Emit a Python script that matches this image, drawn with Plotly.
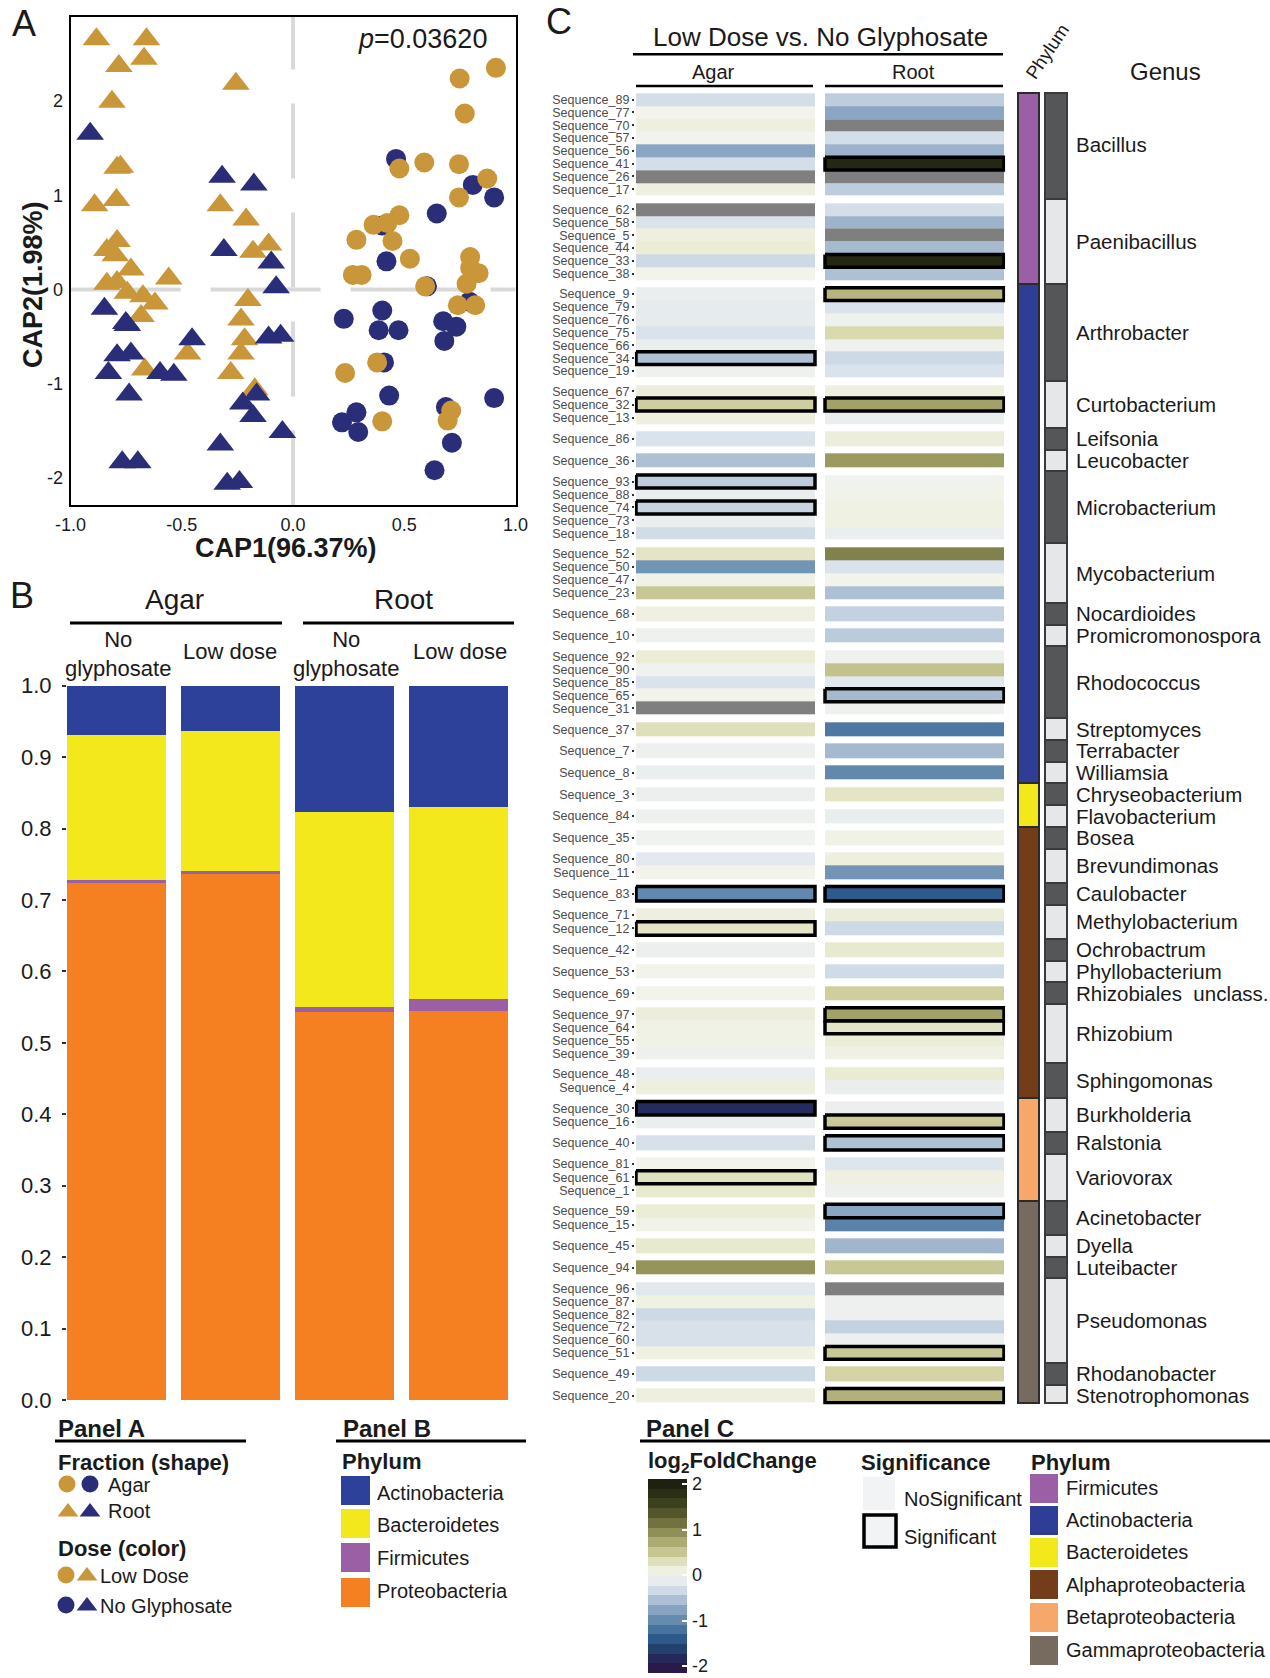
import numpy as np
import plotly.graph_objects as go

W, H = 1270, 1678
FONT = "Liberation Sans"

# ======================= DATA =======================
# ---- Panel A: CAP ordination (CAP1, CAP2) ----
agar_no_x = [0.463, 0.808, 0.904, 0.646, 0.401, 0.420, 0.602, 0.228, 0.401, 0.385, 0.474, 0.675,
             0.734, 0.680, 0.793, 0.409, 0.432, 0.285, 0.220, 0.293, 0.687, 0.904, 0.714, 0.636]
agar_no_y = [1.386, 1.110, 0.977, 0.807, 0.678, 0.299, 0.034, -0.311, -0.223, -0.432, -0.432, -0.337,
             -0.394, -0.545, -0.129, -0.773, -1.125, -1.303, -1.409, -1.511, -1.246, -1.152, -1.625, -1.917]
agar_low_x = [0.912, 0.749, 0.772, 0.478, 0.590, 0.746, 0.873, 0.746, 0.478, 0.362, 0.424, 0.285, 0.447,
              0.525, 0.269, 0.308, 0.594, 0.796, 0.796, 0.834, 0.780, 0.741, 0.819, 0.378, 0.234, 0.711,
              0.695, 0.401]
agar_low_y = [2.352, 2.239, 1.867, 1.284, 1.348, 1.330, 1.178, 0.977, 0.788, 0.686, 0.705, 0.527, 0.515,
              0.326, 0.155, 0.155, 0.034, 0.345, 0.231, 0.174, 0.061, -0.167, -0.167, -0.773, -0.886,
              -1.284, -1.390, -1.398]
root_low_x = [-0.884, -0.659, -0.783, -0.670, -0.257, -0.814, -0.791, -0.776, -0.892, -0.794, -0.327,
              -0.211, -0.791, -0.837, -0.799, -0.729, -0.559, -0.837, -0.791, -0.745, -0.675, -0.621,
              -0.683, -0.180, -0.110, -0.203, -0.234, -0.218, -0.234, -0.474, -0.667, -0.280, -0.172]
root_low_y = [2.655, 2.655, 2.371, 2.447, 2.182, 1.992, 1.292, 1.303, 0.894, 0.951, 0.894, 0.742, 0.515,
              0.420, 0.364, 0.212, 0.117, 0.061, 0.080, -0.034, -0.072, -0.148, -0.280, 0.402, 0.477,
              -0.110, -0.318, -0.527, -0.678, -0.678, -0.848, -0.886, -1.057]
root_no_x = [-0.912, -0.319, -0.176, -0.311, -0.098, -0.076, -0.848, -0.752, -0.745, -0.454, -0.791,
             -0.729, -0.830, -0.598, -0.536, -0.737, -0.110, -0.056, -0.164, -0.226, -0.180, -0.048,
             -0.327, -0.768, -0.698, -0.296, -0.241]
root_no_y = [1.652, 1.197, 1.114, 0.420, 0.288, 0.023, -0.205, -0.356, -0.375, -0.527, -0.697, -0.678,
             -0.886, -0.886, -0.905, -1.114, -0.508, -0.489, -1.114, -1.208, -1.341, -1.511, -1.644,
             -1.833, -1.833, -2.061, -2.042]
p_value_text = "<i>p</i>=0.03620"
cap1_label = "CAP1(96.37%)"
cap2_label = "CAP2(1.98%)"

# ---- Panel B: relative abundance by phylum ----
bar_fraction = ["Agar", "Agar", "Root", "Root"]
bar_dose = ["No<br>glyphosate", "Low dose", "No<br>glyphosate", "Low dose"]
proteobacteria = [0.724, 0.736, 0.543, 0.545]
firmicutes = [0.004, 0.005, 0.0075, 0.017]
bacteroidetes = [0.203, 0.196, 0.272, 0.268]
actinobacteria = [0.069, 0.063, 0.1775, 0.170]
b_ticks = [0.0, 0.1, 0.2, 0.3, 0.4, 0.5, 0.6, 0.7, 0.8, 0.9, 1.0]

# ---- Panel C: log2 fold change heatmap ----
genera = ["Bacillus", "Paenibacillus", "Arthrobacter", "Curtobacterium", "Leifsonia", "Leucobacter",
          "Microbacterium", "Mycobacterium", "Nocardioides", "Promicromonospora", "Rhodococcus",
          "Streptomyces", "Terrabacter", "Williamsia", "Chryseobacterium", "Flavobacterium", "Bosea",
          "Brevundimonas", "Caulobacter", "Methylobacterium", "Ochrobactrum", "Phyllobacterium",
          "Rhizobiales  unclass.", "Rhizobium", "Sphingomonas", "Burkholderia", "Ralstonia", "Variovorax",
          "Acinetobacter", "Dyella", "Luteibacter", "Pseudomonas", "Rhodanobacter", "Stenotrophomonas"]
genus_phylum = ["Firmicutes"] * 2 + ["Actinobacteria"] * 12 + ["Bacteroidetes"] * 2 + \
               ["Alphaproteobacteria"] * 9 + ["Betaproteobacteria"] * 3 + ["Gammaproteobacteria"] * 6
genus_counts = [8, 6, 7, 3, 1, 1, 5, 4, 1, 1, 5, 1, 1, 1, 1, 1, 1, 2, 1, 2, 1, 1, 1, 4, 2, 2, 1, 3, 2, 1, 1, 6, 1, 1]
sequence_ids = [89, 77, 70, 57, 56, 41, 26, 17, 62, 58, 5, 44, 33, 38, 9, 79, 76, 75, 66, 34, 19,
                67, 32, 13, 86, 36, 93, 88, 74, 73, 18, 52, 50, 47, 23, 68, 10, 92, 90, 85, 65, 31,
                37, 7, 8, 3, 84, 35, 80, 11, 83, 71, 12, 42, 53, 69, 97, 64, 55, 39, 48, 4, 30, 16,
                40, 81, 61, 1, 59, 15, 45, 94, 96, 87, 82, 72, 60, 51, 49, 20]
lfc_agar = [-0.3, 0.02, 0.1, 0.02, -0.75, -0.3, None, 0.1,
            None, -0.25, 0.1, 0.15, -0.35, 0.02,
            -0.1, -0.15, -0.15, -0.25, -0.1, -0.55, -0.05,
            0.12, 0.45, 0.1,
            -0.25, -0.55,
            -0.45, -0.12, -0.4, -0.1, -0.32,
            0.25, -0.9, 0.05, 0.5,
            0.08, -0.05,
            0.15, -0.04, -0.25, 0.02, None,
            0.3, -0.06, -0.1, -0.08, -0.06, -0.04,
            -0.18, 0.02, -1.0, 0.1, 0.25, -0.08, 0.02, 0.02,
            0.12, 0.05, 0.05, -0.06, -0.1, 0.1,
            -1.8, -0.1, -0.27, 0.02, 0.28, 0.2,
            0.15, 0.03, 0.2, 0.9,
            -0.2, 0.07, -0.35, -0.27, -0.27, 0.07, -0.35, 0.1]
lfc_root = [-0.45, -0.75, None, -0.3, -0.65, 1.9, None, -0.45,
            -0.3, -0.65, None, -0.6, 1.9, -0.55,
            0.65, -0.25, -0.05, 0.35, -0.05, -0.35, -0.25,
            0.1, 0.8, -0.1,
            0.12, 0.85,
            -0.03, 0.03, 0.07, 0.07, -0.1,
            1.05, -0.25, 0.02, -0.55,
            -0.42, -0.47,
            -0.05, 0.55, -0.2, -0.6, -0.05,
            -1.15, -0.6, -1.0, 0.25, -0.12, 0.05,
            0.1, -0.9, -1.4, 0.12, -0.35, 0.2, -0.33, 0.45,
            0.8, 0.25, 0.15, 0.06, 0.18, -0.1,
            -0.08, 0.48, -0.55, -0.22, 0.08, -0.06,
            -0.75, -1.05, -0.62, 0.5,
            None, -0.07, -0.07, -0.42, -0.07, 0.5, 0.4, 0.68]
sig_agar = [34, 32, 93, 74, 83, 12, 30, 61]
sig_root = [41, 33, 9, 32, 65, 83, 97, 64, 16, 40, 59, 51, 20]
lfc_ticks = [-2, -1, 0, 1, 2]

# ======================= STYLE =======================
GOLD, NAVY = "#C9963A", "#2A2E78"
B_COLORS = {"Actinobacteria": "#2E419A", "Bacteroidetes": "#F2E81B",
            "Firmicutes": "#9B5FA6", "Proteobacteria": "#F48022"}
C_PHY = {"Firmicutes": "#9B5FA6", "Actinobacteria": "#2E3E97", "Bacteroidetes": "#F2E81A",
         "Alphaproteobacteria": "#733D1A", "Betaproteobacteria": "#F5A86A",
         "Gammaproteobacteria": "#776A5E"}
LFC_SCALE_COLORS = ["#2A1A4A", "#252B5C", "#24436F", "#2E5A8C", "#46729E", "#6289AD", "#819FBD",
                    "#A5B9CF", "#C6D4E2", "#E1E8EE", "#F3F4EE", "#E8EACF", "#D4D4A6", "#BCBC85",
                    "#A2A167", "#878850", "#6A6B3A", "#4E5228", "#3A3E1E", "#2A2E16", "#1E2110"]
LFC_SCALE = [[i / (len(LFC_SCALE_COLORS) - 1), c] for i, c in enumerate(LFC_SCALE_COLORS)]
NA_COLOR = "#7F7F7F"
TXT = "#1A1A1A"


def px(x):
    return x / W


def py(y):
    return 1 - y / H


annotations = []
shapes = []


def add_text(x, y, s, size, color=TXT, xanchor="center", yanchor="middle", angle=0, yref="paper"):
    annotations.append(dict(x=px(x), y=(py(y) if yref == "paper" else y), xref="paper", yref=yref,
                            text=s, showarrow=False, textangle=angle,
                            font=dict(family=FONT, size=size, color=color),
                            xanchor=xanchor, yanchor=yanchor, borderpad=0))


def add_line(x0, x1, y0, y1, width=2.5, color="black"):
    shapes.append(dict(type="line", xref="paper", yref="paper", x0=px(x0), x1=px(x1),
                       y0=py(y0), y1=py(y1), line=dict(color=color, width=width)))


def add_rect(x0, x1, y0, y1, fill, line_color=None, line_width=0):
    shapes.append(dict(type="rect", xref="paper", yref="paper", x0=px(x0), x1=px(x1),
                       y0=py(y1), y1=py(y0), fillcolor=fill,
                       line=dict(color=line_color or fill, width=line_width)))


fig = go.Figure()

# ======================= PANEL A =======================
for xs, ys, sym, col, size in [(agar_no_x, agar_no_y, "circle", NAVY, 20),
                               (agar_low_x, agar_low_y, "circle", GOLD, 20),
                               (root_low_x, root_low_y, "triangle-up", GOLD, 24),
                               (root_no_x, root_no_y, "triangle-up", NAVY, 24)]:
    fig.add_trace(go.Scatter(x=xs, y=ys, mode="markers", xaxis="x", yaxis="y",
                             marker=dict(symbol=sym, color=col, size=size, opacity=1, line=dict(width=0)),
                             showlegend=False, hoverinfo="skip"))

shapes.append(dict(type="line", xref="x", yref="y domain", x0=0, x1=0, y0=0, y1=1, layer="below",
                   line=dict(color="#D9D9D9", width=4, dash="75px,34px")))
shapes.append(dict(type="line", xref="x domain", yref="y", x0=0, x1=1, y0=0, y1=0, layer="below",
                   line=dict(color="#D9D9D9", width=4, dash="110px,30px")))

add_text(24, 24, "A", 36)
add_text(423, 39, p_value_text, 27)
add_text(286, 548, "<b>" + cap1_label + "</b>", 27)
add_text(33, 285, "<b>" + cap2_label + "</b>", 27, angle=-90)

# ======================= PANEL B =======================
xb = list(range(len(bar_dose)))
for name, vals in [("Proteobacteria", proteobacteria), ("Firmicutes", firmicutes),
                   ("Bacteroidetes", bacteroidetes), ("Actinobacteria", actinobacteria)]:
    fig.add_trace(go.Bar(x=xb, y=vals, width=0.868, xaxis="x2", yaxis="y2", name=name,
                         marker=dict(color=B_COLORS[name], line=dict(width=0)),
                         showlegend=False, hoverinfo="skip"))

add_text(22, 596, "B", 36)
add_text(174.5, 600, bar_fraction[0], 28)
add_text(403, 600, bar_fraction[2], 28)
add_line(70, 282, 623, 623, 3)
add_line(303, 514, 623, 623, 3)
for cx, lab in zip([118, 230, 346, 460], bar_dose):
    add_text(cx, 654 if "<br>" in lab else 652, lab, 22)

# ======================= PANEL C =======================
pad_u, gap_u = 0.1376, 0.589
gx = 0.0559
edges, z_main, z_na = [], [], []
row_top, row_bot, row_ctr = [], [], []
grp_top, grp_bot = [], []
yy, i = 0.0, 0
for g, n in enumerate(genus_counts):
    h = (n + pad_u) / n
    grp_top.append(yy)
    for k in range(n):
        a, r = lfc_agar[i], lfc_root[i]
        edges.append(yy)
        z_main.append([a, None, r])
        z_na.append([1 if a is None else None, None, 1 if r is None else None])
        row_top.append(yy)
        row_bot.append(yy + h)
        row_ctr.append(yy + h / 2)
        yy += h
        i += 1
    grp_bot.append(yy)
    if g < len(genus_counts) - 1:
        edges.append(yy)
        z_main.append([None, None, None])
        z_na.append([None, None, None])
        yy += gap_u
edges.append(yy)
total = yy
xedges = [0, 1, 1 + gx, 2 + gx]

fig.add_trace(go.Heatmap(z=z_main, x=xedges, y=edges, xaxis="x3", yaxis="y3",
                         colorscale=LFC_SCALE, zmin=-2, zmax=2, showscale=False,
                         hoverinfo="skip"))
fig.add_trace(go.Heatmap(z=z_na, x=xedges, y=edges, xaxis="x3", yaxis="y3",
                         colorscale=[[0, NA_COLOR], [1, NA_COLOR]], zmin=0, zmax=1,
                         showscale=False, hoverinfo="skip"))

bx, by = [], []
for col, sig in ((0, sig_agar), (1, sig_root)):
    x0 = 0 if col == 0 else 1 + gx
    x1 = x0 + 1
    for s in sig:
        j = sequence_ids.index(s)
        t, b = row_top[j], row_bot[j]
        bx += [x0, x1, x1, x0, x0, None]
        by += [t, t, b, b, t, None]
fig.add_trace(go.Scatter(x=bx, y=by, mode="lines", xaxis="x3", yaxis="y3",
                         line=dict(color="black", width=3.5), showlegend=False, hoverinfo="skip"))

# phylum + genus strips
ng = len(genera)
seg_top, seg_h, seg_col = [], [], []
g = 0
while g < ng:
    p = genus_phylum[g]
    start = g
    while g < ng and genus_phylum[g] == p:
        g += 1
    t = grp_top[start] - (gap_u / 2 if start > 0 else 0)
    b = grp_bot[g - 1] + (gap_u / 2 if g < ng else 0)
    seg_top.append(t)
    seg_h.append(b - t)
    seg_col.append(C_PHY[p])
fig.add_trace(go.Bar(x=[0] * len(seg_top), y=seg_h, base=seg_top, width=0.77, xaxis="x4", yaxis="y3",
                     marker=dict(color=seg_col, line=dict(color="#2B2B2B", width=2)),
                     showlegend=False, hoverinfo="skip"))
gen_top = [grp_top[k] - (gap_u / 2 if k > 0 else 0) for k in range(ng)]
gen_bot = [grp_bot[k] + (gap_u / 2 if k < ng - 1 else 0) for k in range(ng)]
fig.add_trace(go.Bar(x=[1] * ng, y=[b - t for t, b in zip(gen_top, gen_bot)], base=gen_top, width=0.8,
                     xaxis="x4", yaxis="y3",
                     marker=dict(color=["#545658" if k % 2 == 0 else "#E6E7E8" for k in range(ng)],
                                 line=dict(color="#3A3A3A", width=2)),
                     showlegend=False, hoverinfo="skip"))
for k, name in enumerate(genera):
    add_text(1075, (grp_top[k] + grp_bot[k]) / 2, name, 20.5, xanchor="left", yref="y3")

add_text(559, 22, "C", 36)
add_text(820, 37.5, "Low Dose vs. No Glyphosate", 26)
add_line(633, 1003, 54.3, 54.3, 2.5)
add_text(713, 72, "Agar", 20)
add_text(913, 72, "Root", 20)
add_line(636, 813, 86, 86, 2.5)
add_line(825, 1003, 86, 86, 2.5)
add_text(1047, 51, "Phylum", 18.5, angle=-56)
add_text(1165, 72, "Genus", 24)

# ======================= LEGENDS =======================
# Panel A legend
add_text(57, 1428, "<b>Panel A</b>", 24, xanchor="left")
add_line(55, 246, 1441, 1441, 3)
add_text(57, 1462, "<b>Fraction (shape)</b>", 22, xanchor="left")
add_text(107, 1485, "Agar", 20, xanchor="left")
add_text(107, 1511, "Root", 20, xanchor="left")
add_text(57, 1548, "<b>Dose (color)</b>", 22, xanchor="left")
add_text(99, 1576, "Low Dose", 20, xanchor="left")
add_text(99, 1606, "No Glyphosate", 20, xanchor="left")
fig.add_trace(go.Scatter(
    x=[67, 90, 68, 90, 66, 87, 66, 87], y=[1484, 1484, 1512, 1512, 1575, 1576, 1605, 1606],
    mode="markers", xaxis="x6", yaxis="y6", showlegend=False, hoverinfo="skip",
    marker=dict(symbol=["circle", "circle", "triangle-up", "triangle-up",
                        "circle", "triangle-up", "circle", "triangle-up"],
                color=[GOLD, NAVY, GOLD, NAVY, GOLD, GOLD, NAVY, NAVY], opacity=1,
                size=[17, 17, 18, 18, 17, 18, 17, 18], line=dict(width=0))))

# Panel B legend
add_text(342, 1428, "<b>Panel B</b>", 24, xanchor="left")
add_line(336, 526, 1441, 1441, 3)
add_text(341, 1461, "<b>Phylum</b>", 22, xanchor="left")
for (name, y0), ly in zip([("Actinobacteria", 1476), ("Bacteroidetes", 1509), ("Firmicutes", 1543),
                           ("Proteobacteria", 1578)], [1493, 1525, 1558, 1591]):
    add_rect(341, 370, y0, y0 + 29, B_COLORS[name])
    add_text(376, ly, name, 20, xanchor="left")

# Panel C legend
add_text(645, 1428, "<b>Panel C</b>", 24, xanchor="left")
add_line(640, 1270, 1441, 1441, 3)
add_text(647, 1462, "<b>log<sub>2</sub>FoldChange</b>", 22, xanchor="left")
lg_edges = list(np.linspace(-2.15, 2.11, 21))
lg_z = [[(lg_edges[k] + lg_edges[k + 1]) / 2] for k in range(20)]
fig.add_trace(go.Heatmap(z=lg_z, x=[0, 1], y=lg_edges, xaxis="x5", yaxis="y5",
                         colorscale=LFC_SCALE, zmin=-2, zmax=2, showscale=False, hoverinfo="skip"))
add_text(860, 1462, "<b>Significance</b>", 22, xanchor="left")
add_rect(863, 895, 1477, 1510, "#F2F3F5")
add_rect(864, 896, 1515, 1547, "#F2F3F5", "black", 3.5)
add_text(903, 1499, "NoSignificant", 20, xanchor="left")
add_text(903, 1537, "Significant", 20, xanchor="left")
add_text(1030, 1462, "<b>Phylum</b>", 22, xanchor="left")
for (name, y0), ly in zip([("Firmicutes", 1474), ("Actinobacteria", 1506), ("Bacteroidetes", 1538),
                           ("Alphaproteobacteria", 1570), ("Betaproteobacteria", 1603),
                           ("Gammaproteobacteria", 1636)], [1488, 1520, 1552, 1585, 1617, 1650]):
    add_rect(1030, 1058, y0, y0 + 29, C_PHY[name])
    add_text(1065, ly, name, 20, xanchor="left")

# ======================= LAYOUT =======================
ext_x = 0.006
ux = 179.0
ext_y = 0.15
uy = 12.577
tickfont = dict(family=FONT, size=18, color=TXT)
fig.update_layout(
    width=W, height=H, autosize=False, margin=dict(l=0, r=0, t=0, b=0, pad=0, autoexpand=False),
    paper_bgcolor="white", plot_bgcolor="rgba(0,0,0,0)", barmode="stack", showlegend=False,
    font=dict(family=FONT, color=TXT),
    xaxis=dict(domain=[px(70.6), px(515.5)], range=[-1, 1], anchor="y",
               tickvals=[-1, -0.5, 0, 0.5, 1], ticktext=["-1.0", "-0.5", "0.0", "0.5", "1.0"],
               ticks="", showgrid=False, zeroline=False, showline=True, mirror=True,
               linecolor="black", linewidth=2, tickfont=tickfont, ticklabelstandoff=2),
    yaxis=dict(domain=[py(505.4), py(17.1)], range=[-2.29, 2.89], anchor="x",
               tickvals=[-2, -1, 0, 1, 2], ticktext=["-2", "-1", "0", "1", "2"],
               ticks="", showgrid=False, zeroline=False, showline=True, mirror=True,
               linecolor="black", linewidth=2, tickfont=tickfont, ticklabelstandoff=2),
    xaxis2=dict(domain=[px(67), px(508)], range=[-0.434, 3.434], anchor="y2", visible=False),
    yaxis2=dict(domain=[py(1400), py(685.7)], range=[0, 1], anchor="x2",
                tickvals=b_ticks, ticktext=["%.1f" % v for v in b_ticks],
                ticks="outside", ticklen=4, tickwidth=1.5, tickcolor="#333333",
                showgrid=False, zeroline=False, showline=False,
                tickfont=dict(family=FONT, size=22, color=TXT), ticklabelstandoff=6),
    xaxis3=dict(domain=[px(636 - ext_x * ux), px(1004 + ext_x * ux)],
                range=[-ext_x, 2 + gx + ext_x], anchor="y3", visible=False),
    yaxis3=dict(domain=[py(1402.7 + ext_y * uy), py(93.3 - ext_y * uy)],
                range=[total + ext_y, -ext_y], anchor="x3",
                tickvals=row_ctr, ticktext=["Sequence_%d" % s for s in sequence_ids],
                ticks="outside", ticklen=2, tickwidth=1.5, tickcolor="#333333",
                showgrid=False, zeroline=False, showline=False,
                tickfont=dict(family=FONT, size=12.5, color="#4D4D4D"), ticklabelstandoff=0),
    xaxis4=dict(domain=[px(1015), px(1070)], range=[-0.5, 1.5], anchor="y3", visible=False),
    xaxis5=dict(domain=[px(648), px(687)], range=[0, 1], anchor="y5", visible=False),
    yaxis5=dict(domain=[py(1673), py(1479)], range=[-2.15, 2.11], anchor="x5", side="right",
                tickvals=lfc_ticks, ticktext=[str(v) for v in lfc_ticks],
                ticks="inside", ticklen=5, tickwidth=1.5, tickcolor="white",
                showgrid=False, zeroline=False, showline=False, ticklabeloverflow="allow",
                tickfont=dict(family=FONT, size=18, color=TXT), ticklabelstandoff=4),
    xaxis6=dict(domain=[0, 1], range=[0, W], anchor="y6", visible=False),
    yaxis6=dict(domain=[0, 1], range=[H, 0], anchor="x6", visible=False),
    annotations=annotations, shapes=shapes,
)

fig.write_html("out.html", config={"displayModeBar": False, "responsive": False},
               post_script="document.body.style.margin='0px';document.body.style.padding='0px';"
                           "document.body.style.overflow='hidden';")
